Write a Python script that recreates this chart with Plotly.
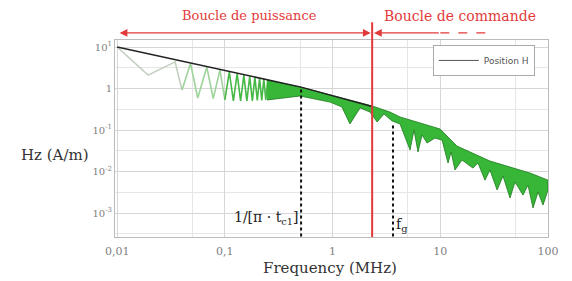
import math
import plotly.graph_objects as go

# ---------------- data ----------------
# low-frequency zig-zag of the spectrum (MHz, A/m)
zig_f = [0.010, 0.0194, 0.0345, 0.040, 0.048, 0.056, 0.068, 0.078, 0.090, 0.100,
         0.110, 0.120, 0.130, 0.140, 0.150, 0.160, 0.170, 0.180, 0.190, 0.200,
         0.210, 0.220, 0.230, 0.240, 0.250]
zig_h = [10.0, 2.1, 4.4, 0.92, 4.0, 0.59, 3.3, 0.57, 2.8, 0.53,
         2.5, 0.50, 2.3, 0.50, 2.1, 0.50, 1.95, 0.50, 1.85, 0.52,
         1.75, 0.52, 1.68, 0.53, 1.60]

# dense part of the spectrum: upper and lower edges of the green band
band_up_f = [0.2465, 0.50, 0.948, 1.45, 2.33, 3.42, 4.23, 6.49, 9.95, 14.3,
             18.9, 28.9, 44.4, 68.1, 100]
band_up_h = [1.60, 1.09, 0.70, 0.53, 0.38, 0.27, 0.206, 0.148, 0.106, 0.041,
             0.0295, 0.0179, 0.0128, 0.0092, 0.0062]
band_lo_f = [0.2465, 0.50, 0.948, 1.22, 1.45, 1.80, 2.23, 2.59, 3.0, 3.57,
             4.23, 5.24, 5.70, 6.21, 6.77, 7.54, 8.93, 10.4, 11.8, 12.6,
             13.7, 15.9, 20.1, 22.4, 26.0, 28.9, 33.7, 38.2, 44.4, 49.4,
             58.6, 65.2, 72.6, 80.8, 89.9, 100]
band_lo_h = [0.53, 0.66, 0.47, 0.36, 0.14, 0.34, 0.27, 0.156, 0.243, 0.165,
             0.14, 0.033, 0.10, 0.0295, 0.076, 0.0486, 0.064, 0.057, 0.016, 0.0295,
             0.0109, 0.0189, 0.0121, 0.016, 0.0062, 0.0109, 0.00358, 0.0078, 0.0023, 0.0056,
             0.0027, 0.0047, 0.00132, 0.0032, 0.00156, 0.00358]

# envelope (black line)
env_f = [0.01, 0.51, 2.33]
env_h = [10.0, 1.08, 0.37]

# characteristic frequencies
f_corner = 0.51      # 1/(pi * t)
f_g = 3.64
f_split = 2.33       # limit between the two loops
h_corner = 1.08
h_g = 0.148
f_arrow_end = 10.0
f_dash_end = 29.0

x_ticks = [0.01, 0.1, 1, 10, 100]
x_tick_text = ["0,01", "0,1", "1", "10", "100"]
y_ticks = [10, 1, 0.1, 0.01, 0.001]
y_tick_text = ["10<sup>1</sup>", "1", "10<sup>-1</sup>", "10<sup>-2</sup>", "10<sup>-3</sup>"]
x_minor = [0.05, 0.5, 5, 50]
y_minor = [10 ** 0.5, 10 ** -0.5, 10 ** -1.5, 10 ** -2.5, 10 ** -3.5]

legend_name = "Position H"

# ---------------- figure ----------------
SERIF = "DejaVu Serif"
RED = "#e23a3a"
fig = go.Figure()

# zig-zag split in three tints (lighter at low frequency)
segs = [(0, 4, "#c3d0c0"), (3, 10, "#9ed39a"), (9, len(zig_f), "#45b845")]
for a, b, col in segs:
    fig.add_trace(go.Scatter(x=zig_f[a:b], y=zig_h[a:b], mode="lines",
                             line=dict(color=col, width=1.6), showlegend=False,
                             hoverinfo="skip"))

fig.add_trace(go.Scatter(x=band_up_f + band_lo_f[::-1],
                         y=band_up_h + band_lo_h[::-1],
                         mode="lines", fill="toself",
                         fillcolor="rgba(45,178,45,0.95)",
                         line=dict(color="#1d7a1d", width=0.8),
                         showlegend=False, hoverinfo="skip"))

fig.add_trace(go.Scatter(x=env_f, y=env_h, mode="lines",
                         line=dict(color="#222222", width=1.5),
                         showlegend=False))

# vertical black markers
for fx, fy in [(f_corner, h_corner), (f_g, h_g)]:
    fig.add_trace(go.Scatter(x=[fx, fx], y=[1e-4, fy], mode="lines",
                             line=dict(color="#111111", width=2, dash="dot"),
                             showlegend=False))

# legend entry
fig.add_trace(go.Scatter(x=[None], y=[None], mode="lines", name=legend_name,
                         line=dict(color="#555555", width=1)))

# red vertical separation line (extends above the plot)
fig.add_shape(type="line", xref="x", yref="paper", x0=f_split, x1=f_split,
              y0=0, y1=1.09, line=dict(color=RED, width=2))
# dashed continuation of the "commande" arrow
fig.add_shape(type="line", xref="x", yref="paper", x0=f_arrow_end, x1=f_dash_end,
              y0=1.036, y1=1.036, line=dict(color=RED, width=1.2, dash="dash"))

lx = math.log10
# double arrow : Boucle de puissance
fig.add_annotation(x=lx(f_split * 0.97), y=1.036, xref="x", yref="paper",
                   ax=lx(0.0102), ay=0, axref="x", ayref="pixel",
                   text="", showarrow=True, arrowhead=2, arrowside="end+start",
                   arrowsize=1.2, arrowwidth=1.3, arrowcolor=RED)
# arrow : Boucle de commande
fig.add_annotation(x=lx(f_split * 1.04), y=1.036, xref="x", yref="paper",
                   ax=lx(f_arrow_end), ay=0, axref="x", ayref="pixel",
                   text="", showarrow=True, arrowhead=2, arrowside="end",
                   arrowsize=1.2, arrowwidth=1.3, arrowcolor=RED)

fig.add_annotation(x=lx(0.171), y=1.122, xref="x", yref="paper",
                   xanchor="center", yanchor="middle",
                   text="Boucle de puissance", showarrow=False,
                   font=dict(family=SERIF, size=13, color=RED))
fig.add_annotation(x=lx(15.2), y=1.122, xref="x", yref="paper",
                   xanchor="center", yanchor="middle",
                   text="Boucle de commande", showarrow=False,
                   font=dict(family=SERIF, size=14, color=RED))

fig.add_annotation(x=lx(f_corner * 0.97), y=0.096, xref="x", yref="paper",
                   xanchor="right", yanchor="middle",
                   text="1/[π · t<sub>c1</sub>]", showarrow=False,
                   font=dict(family=SERIF, size=14, color="#222222"))
fig.add_annotation(x=lx(f_g * 1.03), y=0.06, xref="x", yref="paper",
                   xanchor="left", yanchor="middle",
                   text="f<sub>g</sub>", showarrow=False,
                   font=dict(family=SERIF, size=14, color="#222222"))

fig.add_annotation(x=-0.139, y=0.416, xref="paper", yref="paper",
                   xanchor="center", yanchor="middle",
                   text="Hz (A/m)", showarrow=False,
                   font=dict(family=SERIF, size=15, color="#333333"))
fig.add_annotation(x=0.497, y=-0.157, xref="paper", yref="paper",
                   xanchor="center", yanchor="middle",
                   text="Frequency (MHz)", showarrow=False,
                   font=dict(family=SERIF, size=15, color="#333333"))

fig.update_xaxes(type="log", range=[-2.02, 2.0],
                 tickvals=x_ticks, ticktext=x_tick_text,
                 tickfont=dict(family=SERIF, size=11, color="#808080"),
                 ticklabelstandoff=4,
                 showgrid=True, gridcolor="#d6d6d6", gridwidth=1,
                 minor=dict(tickvals=x_minor, showgrid=True, gridcolor="#e6e6e6"),
                 showline=True, linecolor="#bbbbbb", mirror=True,
                 zeroline=False, ticks="")
fig.update_yaxes(type="log", range=[-3.578, 1.169],
                 tickvals=y_ticks, ticktext=y_tick_text,
                 tickfont=dict(family=SERIF, size=10, color="#808080"),
                 showgrid=True, gridcolor="#d6d6d6", gridwidth=1,
                 minor=dict(tickvals=y_minor, showgrid=True, gridcolor="#e6e6e6"),
                 showline=True, linecolor="#bbbbbb", mirror=True,
                 zeroline=False, ticks="")

fig.update_layout(width=572, height=281,
                  margin=dict(l=115, r=24, t=40, b=44),
                  plot_bgcolor="white", paper_bgcolor="white",
                  legend=dict(x=0.734, y=0.975, xanchor="left", yanchor="top",
                              bgcolor="white", bordercolor="#aaaaaa", borderwidth=1,
                              itemwidth=40,
                              font=dict(family="DejaVu Sans", size=9, color="#555555")),
                  showlegend=True)

fig.write_html("out.html", config={"displayModeBar": False},
               post_script="document.body.style.margin='0px';")
